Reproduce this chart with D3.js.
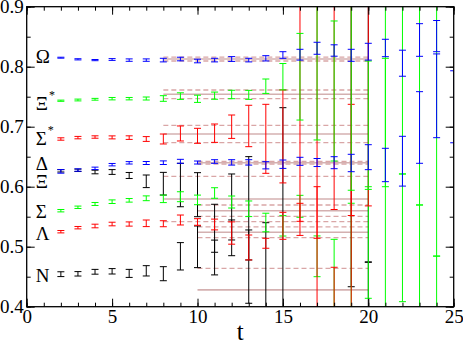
<!DOCTYPE html>
<html>
<head>
<meta charset="utf-8">
<script src="https://cdn.jsdelivr.net/npm/d3@7"></script>
<style>
  body { margin: 0; background: #fff; }
  text { font-family: "Liberation Serif", "Times New Roman", serif; fill: #000; }
</style>
</head>
<body>
<svg id="chart" width="463" height="343"></svg>
<script>
// effective masses vs t, one block per state (t, value, error)
const omegaT = [2,3,4,5,6,7,8,9,10,11,12,13,14,15,16,17,18,19,20,21,22,23,24];
const omegaM = [0.815,0.8123,0.811,0.812,0.811,0.811,0.811,0.8128,0.8095,0.811,0.8128,0.811,0.814,0.8195,0.82,0.8307,0.827,0.819,0.825,0.8312,0.8058,0.8445,0.851];
const omegaE = [0.0008,0.001,0.001,0.0015,0.002,0.002,0.003,0.003,0.003,0.003,0.004,0.003,0.0044,0.0055,0.009,0.01,0.0095,0.01,0.014,0.0145,0.0217,0.0272,0.026];

const xistT = [2,3,4,5,6,7,8,9,10,11,12,13,14,15,16,17,18,19,20,21,22,23,24];
const xistM = [0.7433,0.7445,0.7457,0.7467,0.7467,0.747,0.747,0.751,0.7465,0.7517,0.7537,0.753,0.7675,0.7833,0.7833,0.7912,0.7595,0.7758,0.7025,0.765,0.7756,0.7498,0.707];
const xistE = [0.001,0.0015,0.0015,0.002,0.002,0.0025,0.0047,0.0055,0.006,0.006,0.007,0.0075,0.012,0.022,0.0722,0.1133,0.1167,0.1817,0.107,0.165,0.1544,0.1803,0.2228];

const sigstT = [2,3,4,5,6,7,8,9,10,11,12,13,14,15,16,17,18,19,20];
const sigstM = [0.6795,0.6818,0.6828,0.6822,0.6818,0.6795,0.6795,0.6887,0.6848,0.6892,0.70,0.7012,0.6798,0.6838,0.7194,0.722,0.741,0.736,0.749];
const sigstE = [0.002,0.002,0.002,0.0025,0.003,0.004,0.0083,0.0125,0.0125,0.0153,0.0195,0.0345,0.0575,0.0775,0.2006,0.208,0.179,0.184,0.181];

const deltaT = [2,3,4,5,6,7,8,9,10,11,12,13,14,15,16,17,18,19,20,21,22,23,24,25];
const deltaM = [0.6255,0.6278,0.6306,0.6367,0.6398,0.6395,0.64,0.6423,0.6403,0.642,0.6405,0.6405,0.6357,0.6375,0.6423,0.6403,0.64,0.6395,0.6492,0.6362,0.6425,0.6987,0.7515,0.7332];
const deltaE = [0.003,0.002,0.002,0.002,0.002,0.0025,0.003,0.0033,0.0025,0.003,0.0045,0.0045,0.006,0.007,0.0067,0.0067,0.01,0.0145,0.0208,0.0278,0.0415,0.0597,0.0698,0.06];

const xiT = [2,3,4,5,6,7,8,9,10,11,12,13,15,19,20];
const xiM = [0.6265,0.6273,0.6245,0.6245,0.6187,0.609,0.605,0.6028,0.5867,0.5307,0.5662,0.564,0.55,0.675,0.697];
const xiE = [0.002,0.002,0.003,0.004,0.005,0.0105,0.0189,0.0362,0.0367,0.04,0.055,0.0861,0.1817,0.2417,0.223];

const sigmaT = [2,3,4,5,6,7,8,9,10,11,12,13,14,15,16,17,18,19,20,21,22,23,24];
const sigmaM = [0.56,0.5657,0.5712,0.575,0.5773,0.5807,0.5798,0.5833,0.578,0.5895,0.5745,0.5632,0.5403,0.5348,0.5673,0.484,0.45,0.4862,0.507,0.597,0.5148,0.4748,0.43];
const sigmaE = [0.002,0.002,0.0025,0.003,0.003,0.004,0.0063,0.0083,0.008,0.0088,0.01,0.013,0.0155,0.017,0.0183,0.034,0.0623,0.0862,0.093,0.217,0.1064,0.0948,0.0545];

const lambdaT = [2,3,4,5,6,7,8,9,10,11,12,13,14,15,16,17,18,19];
const lambdaM = [0.525,0.5317,0.5345,0.5378,0.5378,0.539,0.5383,0.5445,0.5412,0.537,0.5228,0.4987,0.5057,0.5348,0.5573,0.49,0.42,0.555];
const lambdaE = [0.002,0.002,0.003,0.003,0.0035,0.0055,0.005,0.0083,0.0055,0.009,0.0186,0.0208,0.0083,0.0225,0.015,0.11,0.0457,0.1823];

const nucT = [2,3,4,5,6,7,8,9,10,11,12,13,14,20];
const nucM = [0.4542,0.4548,0.4582,0.459,0.4555,0.4598,0.455,0.484,0.4998,0.482,0.5148,0.4668,0.46,0.41];
const nucE = [0.004,0.0037,0.004,0.0045,0.0067,0.0086,0.0117,0.0228,0.0347,0.029,0.0298,0.0611,0.08,0.0647];

// plateau fits: name, first t, last t, value, error
const fitNames = ["Omega","Xi*","Sigma*","Delta","Xi","Sigma","Lambda","N"];
const fitFrom  = [8, 8, 8, 10, 8, 10, 10, 10];
const fitTo    = [20, 20, 20, 20, 20, 20, 20, 20];
const fitMid   = [0.8128, 0.754, 0.6878, 0.64, 0.5795, 0.56, 0.524, 0.428];
const fitErr   = [0.0033, 0.0072, 0.0145, 0.0022, 0.0378, 0.0095, 0.009, 0.036];

// state labels drawn at the left
const labelMain = ["\u03A9", "\u039E", "\u03A3", "\u0394", "\u039E", "\u03A3", "\u039B", "N"];
const labelStar = [false, true, true, false, false, false, false, false];

const xTicks = [0, 5, 10, 15, 20, 25];
const yTicks = [0.4, 0.5, 0.6, 0.7, 0.8, 0.9];

// draw order: black under red under green/blue
const series = [
  { t: nucT, m: nucM, e: nucE, color: "#000000" },
  { t: xiT, m: xiM, e: xiE, color: "#000000" },
  { t: sigmaT, m: sigmaM, e: sigmaE, color: "#00ff00" },
  { t: lambdaT, m: lambdaM, e: lambdaE, color: "#ff0000" },
  { t: sigstT, m: sigstM, e: sigstE, color: "#ff0000" },
  { t: xistT, m: xistM, e: xistE, color: "#00ff00" },
  { t: deltaT, m: deltaM, e: deltaE, color: "#0000ff" },
  { t: omegaT, m: omegaM, e: omegaE, color: "#0000ff" }
];

let svg = d3.select("#chart");
let x = d3.scaleLinear().domain([0, 25]).range([26.7, 453.7]);
let y = d3.scaleLinear().domain([0.4, 0.9]).range([306.7, 6.7]);

svg.append("clipPath").attr("id", "plotclip")
  .append("rect")
  .attr("x", x(0)).attr("y", y(0.9))
  .attr("width", x(25) - x(0)).attr("height", y(0.4) - y(0.9));

// fits
let fits = svg.append("g").attr("clip-path", "url(#plotclip)");
fitNames.forEach((n, i) => {
  let x1 = x(fitFrom[i]), x2 = x(fitTo[i]);
  [fitMid[i] + fitErr[i], fitMid[i] - fitErr[i]].forEach(v => {
    fits.append("line")
      .attr("x1", x1).attr("x2", x2)
      .attr("y1", y(v)).attr("y2", y(v))
      .attr("stroke", "#d9a6a6")
      .attr("stroke-width", 1.3)
      .attr("stroke-dasharray", "5,3");
  });
  fits.append("line")
    .attr("x1", x1).attr("x2", x2)
    .attr("y1", y(fitMid[i])).attr("y2", y(fitMid[i]))
    .attr("stroke", "#d4b0b0")
    .attr("stroke-width", 1.6);
});

// error bars
let bars = svg.append("g").attr("clip-path", "url(#plotclip)");
let cap = 3.5;
series.forEach(s => {
  let pts = s.t.map((t, i) => ({ t: t, m: s.m[i], e: s.e[i] }));
  let g = bars.append("g").attr("stroke", s.color).attr("stroke-width", 1);
  g.selectAll(".v").data(pts).enter().append("line")
    .attr("x1", d => x(d.t)).attr("x2", d => x(d.t))
    .attr("y1", d => y(d.m + d.e)).attr("y2", d => y(d.m - d.e));
  g.selectAll(".hi").data(pts).enter().append("line")
    .attr("x1", d => x(d.t) - cap).attr("x2", d => x(d.t) + cap)
    .attr("y1", d => y(d.m + d.e)).attr("y2", d => y(d.m + d.e));
  g.selectAll(".lo").data(pts).enter().append("line")
    .attr("x1", d => x(d.t) - cap).attr("x2", d => x(d.t) + cap)
    .attr("y1", d => y(d.m - d.e)).attr("y2", d => y(d.m - d.e));
});

// axes: inward ticks on all four sides
function styleAxis(g) {
  g.select(".domain").remove();
  g.selectAll(".tick line").attr("stroke", "#000");
}
let minorX = d3.range(0, 26, 1);
let minorY = d3.range(0.4, 0.901, 0.05);

svg.append("g").attr("transform", `translate(0,${y(0.4)})`)
  .call(d3.axisBottom(x).tickValues(minorX).tickSize(-4).tickFormat("")).call(styleAxis);
svg.append("g").attr("transform", `translate(0,${y(0.4)})`)
  .call(d3.axisBottom(x).tickValues(xTicks).tickSize(-8).tickPadding(3).tickFormat(d3.format("d")))
  .call(styleAxis)
  .selectAll("text").style("font-size", "19px").style("font-family", "Liberation Serif, serif");
svg.append("g").attr("transform", `translate(0,${y(0.9)})`)
  .call(d3.axisTop(x).tickValues(minorX).tickSize(-4).tickFormat("")).call(styleAxis);
svg.append("g").attr("transform", `translate(0,${y(0.9)})`)
  .call(d3.axisTop(x).tickValues(xTicks).tickSize(-8).tickFormat("")).call(styleAxis);

svg.append("g").attr("transform", `translate(${x(0)},0)`)
  .call(d3.axisLeft(y).tickValues(minorY).tickSize(-4).tickFormat("")).call(styleAxis);
svg.append("g").attr("transform", `translate(${x(0)},0)`)
  .call(d3.axisLeft(y).tickValues(yTicks).tickSize(-8).tickPadding(3).tickFormat(d3.format(".1f")))
  .call(styleAxis)
  .selectAll("text").style("font-size", "19px").style("font-family", "Liberation Serif, serif");
svg.append("g").attr("transform", `translate(${x(25)},0)`)
  .call(d3.axisRight(y).tickValues(minorY).tickSize(-4).tickFormat("")).call(styleAxis);
svg.append("g").attr("transform", `translate(${x(25)},0)`)
  .call(d3.axisRight(y).tickValues(yTicks).tickSize(-8).tickFormat("")).call(styleAxis);

// frame
svg.append("rect")
  .attr("x", x(0)).attr("y", y(0.9))
  .attr("width", x(25) - x(0)).attr("height", y(0.4) - y(0.9))
  .attr("fill", "none").attr("stroke", "#000").attr("stroke-width", 1.3);

// axis title
svg.append("text")
  .attr("x", (x(0) + x(25)) / 2).attr("y", 340)
  .attr("text-anchor", "middle")
  .style("font-size", "25px")
  .text("t");

// state labels
const labelAt = [0.8057, 0.7278, 0.6695, 0.6285, 0.5985, 0.5473, 0.5112, 0.4417];
labelMain.forEach((s, i) => {
  let tx = svg.append("text")
    .attr("x", x(0.53)).attr("y", y(labelAt[i]))
    .style("font-size", "19px")
    .text(s);
  if (labelStar[i]) {
    tx.append("tspan").attr("dx", 1).attr("dy", -11).style("font-size", "12px").text("*");
  }
});
</script>
</body>
</html>
